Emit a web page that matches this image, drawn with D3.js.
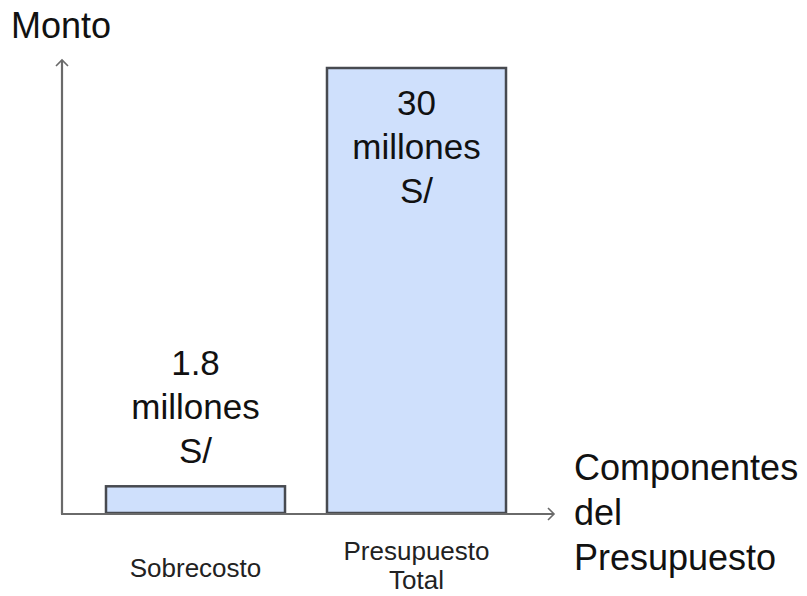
<!DOCTYPE html>
<html>
<head>
<meta charset="utf-8">
<script src="https://cdn.jsdelivr.net/npm/d3@7"></script>
<style>
  html, body { margin: 0; padding: 0; background: #fff; }
  svg { display: block; font-family: "Liberation Sans", Arial, sans-serif; }
</style>
</head>
<body>
<svg id="chart" width="807" height="596"></svg>
<script>
// Budget components and their amounts (millions of soles)
const categories = ["Sobrecosto", "Presupuesto Total"];
const categoryLines = [["Sobrecosto"], ["Presupuesto", "Total"]];
const values = [1.8, 30];
const valueLabels = [["1.8", "millones", "S/"], ["30", "millones", "S/"]];
const yTitle = "Monto";
const xTitle = ["Componentes", "del", "Presupuesto"];

const svg = d3.select("#chart");

const originX = 62, originY = 513;

const x = d3.scaleBand()
  .domain(categories)
  .range([85, 527])
  .paddingInner(0.19)
  .paddingOuter(0.095);

const y = d3.scaleLinear()
  .domain([0, 30])
  .range([originY, 68]);

// Bars
svg.selectAll("rect.bar")
  .data(categories)
  .join("rect")
  .attr("class", "bar")
  .attr("x", d => x(d))
  .attr("width", x.bandwidth())
  .attr("y", (d, i) => y(values[i]))
  .attr("height", (d, i) => y(0) - y(values[i]))
  .attr("fill", "#cfe0fc")
  .attr("stroke", "#474a50")
  .attr("stroke-width", 2.5);

// Axes with open arrow heads
const axisColor = "#6a6a6a";
svg.append("line")
  .attr("x1", originX).attr("y1", originY + 1)
  .attr("x2", originX).attr("y2", 60)
  .attr("stroke", axisColor).attr("stroke-width", 2.2);
svg.append("path")
  .attr("d", `M${originX - 6},${66} L${originX},${60} L${originX + 6},${66}`)
  .attr("fill", "none").attr("stroke", axisColor).attr("stroke-width", 1.6);

svg.append("line")
  .attr("x1", originX - 1).attr("y1", originY + 1)
  .attr("x2", 554).attr("y2", originY + 1)
  .attr("stroke", axisColor).attr("stroke-width", 2.2);
svg.append("path")
  .attr("d", `M${548},${originY - 5} L${554},${originY + 1} L${548},${originY + 7}`)
  .attr("fill", "none").attr("stroke", axisColor).attr("stroke-width", 1.6);

// Value labels (above the small bar, inside the tall bar)
const valueTop = [375, 115];
categories.forEach((c, i) => {
  const t = svg.append("text")
    .attr("text-anchor", "middle")
    .attr("font-size", 35)
    .attr("fill", "#111");
  valueLabels[i].forEach((line, j) => {
    t.append("tspan")
      .attr("x", x(c) + x.bandwidth() / 2)
      .attr("y", valueTop[i] + j * 44)
      .text(line);
  });
});

// Category labels
const catTop = [577, 560];
categories.forEach((c, i) => {
  const t = svg.append("text")
    .attr("text-anchor", "middle")
    .attr("font-size", 26)
    .attr("fill", "#222");
  categoryLines[i].forEach((line, j) => {
    t.append("tspan")
      .attr("x", x(c) + x.bandwidth() / 2)
      .attr("y", catTop[i] + j * 29)
      .text(line);
  });
});

// Axis titles
svg.append("text")
  .attr("x", 11).attr("y", 38)
  .attr("font-size", 36)
  .attr("fill", "#111")
  .text(yTitle);

const xt = svg.append("text")
  .attr("font-size", 36)
  .attr("fill", "#111");
xTitle.forEach((line, j) => {
  xt.append("tspan")
    .attr("x", 574)
    .attr("y", 480 + j * 45)
    .text(line);
});
</script>
</body>
</html>
